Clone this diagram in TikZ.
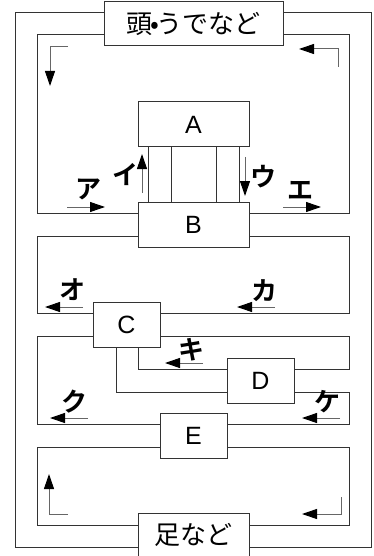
\documentclass[tikz,border=0pt]{standalone}
\usepackage{fontspec}
\setsansfont{Liberation Sans}
\newfontfamily\jp{Noto Sans CJK JP}
\newfontfamily\kana{Noto Sans CJK JP Bold}
\usetikzlibrary{arrows.meta}

\begin{document}
\begin{tikzpicture}[x=1pt, y=-1pt,
	box/.style={draw=black!80, line width=1pt, fill=white, inner sep=0, minimum height=45, font=\sffamily\fontsize{25}{25}\selectfont},
	wide/.style={box, minimum width=111},
	narrow/.style={box, minimum width=67},
	pipe/.style={black!80, line width=1pt},
	flow/.style={black!60, line width=1pt, -{Triangle[black, length=15pt, width=10pt]}},
	l/.style={font=\kana\fontsize{26}{26}\selectfont},
	big/.style={font=\jp\fontsize{26}{26}\selectfont}]
	\useasboundingbox (0,0) rectangle (374,556);

	\node[wide, minimum width=179, minimum height=44, big] (head) at (193.5,24) {頭\kern-2pt•\kern-2ptうでなど};
	\node[wide] (A) at (193.5,124.5) {A};
	\node[wide] (B) at (193.5,224.5) {B};
	\node[narrow] (C) at (126.5,324.5) {C};
	\node[narrow] (D) at (260.5,380.5) {D};
	\node[narrow] (E) at (193.5,435.5) {E};
	\node[wide, minimum height=44, big] (foot) at (193.5,535) {足など};

	% outer loop
	\draw[pipe] (head.west |- 0,13) -| (15,547) -- (foot.west |- 0,547);
	\draw[pipe] (head.east |- 0,13) -| (371,547) -- (foot.east |- 0,547);
	% head -> B
	\draw[pipe] (head.west |- 0,35) -| (37,213) -- (B.west |- 0,213);
	\draw[pipe] (head.east |- 0,35) -| (349,213) -- (B.east |- 0,213);
	\foreach \x in {148,171,216,239}
		\draw[pipe] (A.south -| \x,0) -- (B.north -| \x,0);
	% B -> C
	\draw[pipe] (B.west |- 0,236) -| (37,313) -- (C.west |- 0,313);
	\draw[pipe] (B.east |- 0,236) -| (349,313) -- (C.east |- 0,313);
	% C -> D -> E
	\draw[pipe] (C.west |- 0,336) -| (37,424) -- (E.west |- 0,424);
	\draw[pipe] (C.east |- 0,336) -| (349,369) -- (D.east |- 0,369);
	\draw[pipe] (D.east |- 0,392) -| (349,424) -- (E.east |- 0,424);
	\draw[pipe] (C.south -| 138,0) |- (D.west |- 0,369);
	\draw[pipe] (C.south -| 116,0) |- (D.west |- 0,392);
	% E -> foot
	\draw[pipe] (E.west |- 0,447) -| (37,525) -- (foot.west |- 0,525);
	\draw[pipe] (E.east |- 0,447) -| (349,525) -- (foot.east |- 0,525);

	\draw[flow] (68,47) -- (50,47) -- (50,86);
	\draw[flow] (338,67) -- (338,49) -- (299,49);
	\draw[flow] (67,207) -- (105,207);
	\draw[flow] (142,193) -- (142,154);
	\draw[flow] (245,157) -- (245,196);
	\draw[flow] (283,207) -- (321,207);
	\draw[flow] (83,307) -- (45,307);
	\draw[flow] (275,307) -- (237,307);
	\draw[flow] (203,363) -- (165,363);
	\draw[flow] (88,418) -- (50,418);
	\draw[flow] (340,418) -- (302,418);
	\draw[flow] (68,514) -- (49,514) -- (49,474);
	\draw[flow] (341,497) -- (341,514) -- (302,514);

	\node[l] (a) at (88,189) {ア};
	\node[l] (i) at (125,175) {イ};
	\node[l] (u) at (263,177) {ウ};
	\node[l] (e) at (300,190) {エ};
	\node[l] (o) at (72,290) {オ};
	\node[l] (ka) at (264,291) {カ};
	\node[l] (ki) at (191,350) {キ};
	\node[l] (ku) at (74,402) {ク};
	\node[l] (ke) at (327,402) {ケ};
\end{tikzpicture}
\end{document}
